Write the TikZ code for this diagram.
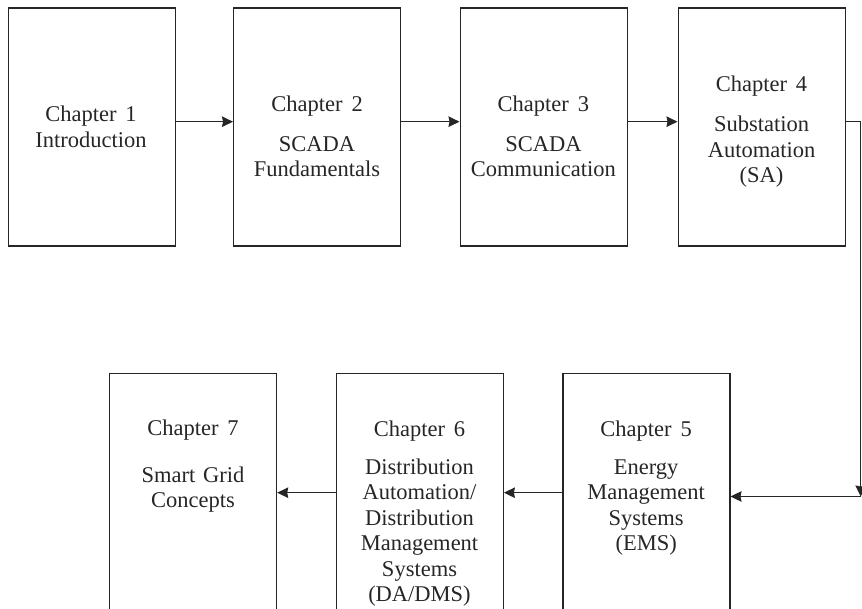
\documentclass[tikz,border=0pt]{standalone}
\usepackage{fontspec}
\setmainfont{Liberation Serif}
\usetikzlibrary{arrows.meta}
\definecolor{ink}{HTML}{262626}
\begin{document}
\begin{tikzpicture}[x=1pt,y=-1pt,
  box/.style={draw=ink, line width=1.2pt, minimum width=167pt, minimum height=238pt, inner sep=0pt, anchor=north west},
  lbl/.style={font=\fontsize{22.5}{25.5}\selectfont, align=center, anchor=base, text=ink, inner sep=0pt},
  conn/.style={draw=ink, line width=1.2pt},
  tip/.style={-{Stealth[length=11pt,width=10.5pt,inset=1pt]}}]
\useasboundingbox (0,0) rectangle (862,609);
\clip (0,0) rectangle (862,609);
% boxes
\node[box] (b1) at (7.5,7.5) {};
\node[box] (b2) at (233,7.5) {};
\node[box] (b3) at (459.5,7.5) {};
\node[box] (b4) at (677.5,7.5) {};
\node[box] (b7) at (109,373.3) {};
\node[box] (b6) at (335.7,373.3) {};
\node[box] (b5) at (562.3,373.3) {};
% labels (anchored at the baseline of their last line)
\node[lbl] (t1) at (91,147.5) {Chapter\hspace{0.4em}1\\Introduction};
\node[lbl] (t2) at (317,177) {Chapter\hspace{0.4em}2\\[14.5pt]SCADA\\Fundamentals};
\node[lbl] (t3) at (543.4,177) {Chapter\hspace{0.4em}3\\[14.5pt]SCADA\\Communication};
\node[lbl] (t4) at (761.5,183) {Chapter\hspace{0.4em}4\\[14.5pt]Substation\\Automation\\(SA)};
\node[lbl] (t5) at (646.2,550.8) {Chapter\hspace{0.4em}5\\[12.8pt]Energy\\Management\\Systems\\(EMS)};
\node[lbl] (t6) at (419.5,601.8) {Chapter\hspace{0.4em}6\\[12.8pt]Distribution\\Automation/\\Distribution\\Management\\Systems\\(DA/DMS)};
\node[lbl] (t7) at (193,507.7) {Chapter\hspace{0.4em}7\\[21pt]Smart\hspace{0.35em}Grid\\Concepts};
% connectors
\coordinate (r1) at (0,121.7);
\coordinate (r2) at (0,492.7);
\coordinate (c1) at (860.7,121.7);
\coordinate (c2) at (860.7,496.5);
\draw[conn,tip] (b1.east |- r1) -- (b2.west |- r1);
\draw[conn,tip] (b2.east |- r1) -- (b3.west |- r1);
\draw[conn,tip] (b3.east |- r1) -- (b4.west |- r1);
\draw[conn,tip] (b4.east |- c1) -- (c1) -- (c2);
\draw[conn,tip] (c2) -- (b5.east |- c2);
\draw[conn,tip] (b5.west |- r2) -- (b6.east |- r2);
\draw[conn,tip] (b6.west |- r2) -- (b7.east |- r2);
\end{tikzpicture}
\end{document}
